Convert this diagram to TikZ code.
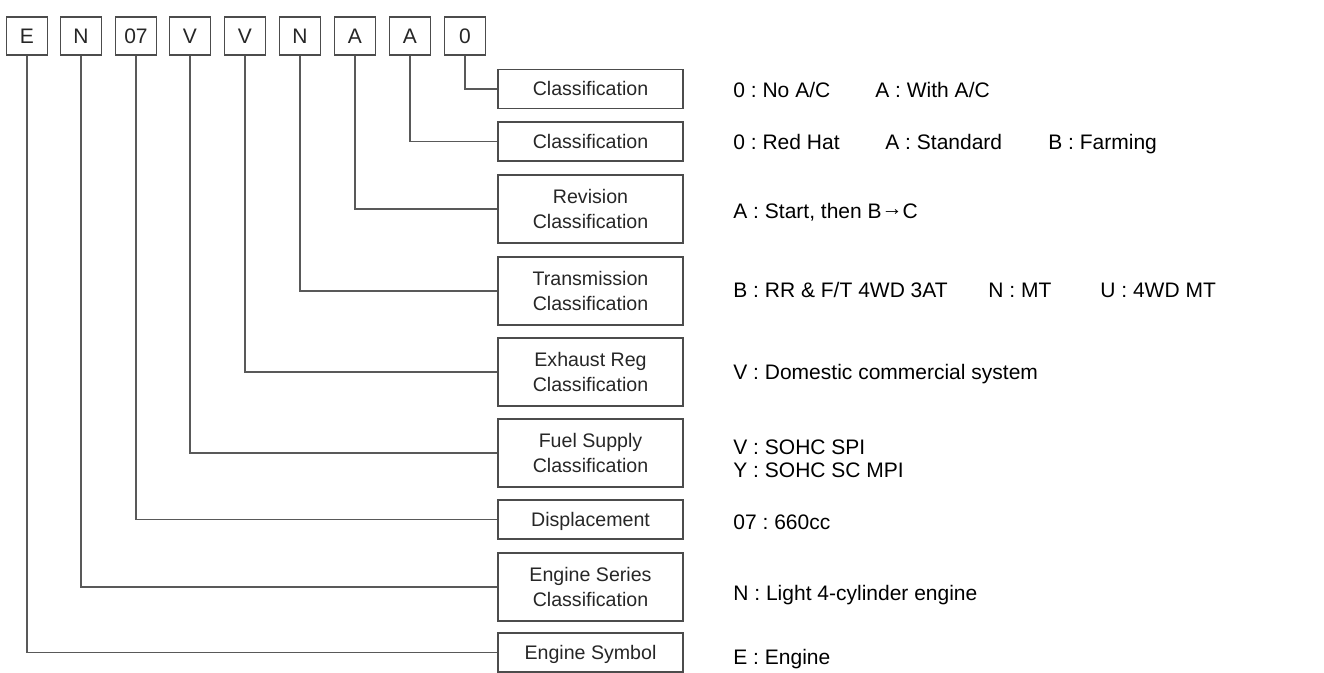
\documentclass[tikz,border=0pt]{standalone}
\usepackage{fontspec}
\setmainfont{Liberation Sans}
\usetikzlibrary{positioning}
\frenchspacing
\begin{document}
\begin{tikzpicture}[x=0.5pt,y=-0.5pt,
  code/.style={draw=black!70,line width=0.6pt,fill=white,minimum width=20.5pt,minimum height=19pt,inner sep=0pt,text height=7.5pt,text depth=0pt,text=black!85,font=\fontsize{10.5}{12}\selectfont},
  cls/.style={draw=black!70,line width=0.6pt,minimum width=92.5pt,minimum height=#1,align=center,inner sep=1pt,text=black!85,font=\fontsize{9.8}{12.5}\selectfont},
  cls/.default=19.5pt,
  cls1/.style={cls,text height=8.5pt,text depth=1.5pt},
  lead/.style={draw=black!65,line width=0.7pt},
  desc/.style={anchor=base west,inner sep=0pt,align=left,font=\fontsize{10.5}{11.5}\selectfont}]
\useasboundingbox (0,0) rectangle (1324,673);
% code letters
\node[code] (cE)  at (27,36)  {E};
\node[code] (cN)  at (81,36)  {N};
\node[code] (c07) at (136,36) {07};
\node[code] (cV1) at (190,36) {V};
\node[code] (cV2) at (245,36) {V};
\node[code] (cN2) at (300,36) {N};
\node[code] (cA1) at (355,36) {A};
\node[code] (cA2) at (410,36) {A};
\node[code] (c0)  at (465,36) {0};
% classification boxes
\node[cls1] (lAC)   at (590.5,89)    {Classification};
\node[cls1] (lHat)  at (590.5,141.5) {Classification};
\node[cls=34pt] (lRev)  at (590.5,209) {Revision\\Classification};
\node[cls=34pt] (lTrn)  at (590.5,291) {Transmission\\Classification};
\node[cls=34pt] (lExh)  at (590.5,372) {Exhaust Reg\\Classification};
\node[cls=34pt] (lFuel) at (590.5,453) {Fuel Supply\\Classification};
\node[cls1] (lDisp) at (590.5,519.5) {Displacement};
\node[cls=34pt] (lSer)  at (590.5,587) {Engine Series\\Classification};
\node[cls1] (lSym)  at (590.5,652.5) {Engine Symbol};
% leads
\draw[lead] (c0.south)  |- (lAC.west);
\draw[lead] (cA2.south) |- (lHat.west);
\draw[lead] (cA1.south) |- (lRev.west);
\draw[lead] (cN2.south) |- (lTrn.west);
\draw[lead] (cV2.south) |- (lExh.west);
\draw[lead] (cV1.south) |- (lFuel.west);
\draw[lead] (c07.south) |- (lDisp.west);
\draw[lead] (cN.south)  |- (lSer.west);
\draw[lead] (cE.south)  |- (lSym.west);
% meanings
\node[desc] (dAC1)  at (733,98)  {0 : No A/C};
\node[desc] (dAC2)  at (875,98)  {A : With A/C};
\node[desc] (dHat1) at (733,150) {0 : Red Hat};
\node[desc] (dHat2) at (885,150) {A : Standard};
\node[desc] (dHat3) at (1048,150) {B : Farming};
\node[desc] (dRev)  at (733,219) {A : Start, then B\raisebox{0.3ex}{→}C};
\node[desc] (dTrn1) at (733,298) {B : RR \& F/T 4WD 3AT};
\node[desc] (dTrn2) at (988,298) {N : MT};
\node[desc] (dTrn3) at (1100,298) {U : 4WD MT};
\node[desc] (dExh)  at (733,380) {V : Domestic commercial system};
\node[desc] (dFuel) at (733,478) {V : SOHC SPI\\Y : SOHC SC MPI};
\node[desc] (dDisp) at (733,530) {07 : 660cc};
\node[desc] (dSer)  at (733,601) {N : Light 4-cylinder engine};
\node[desc] (dSym)  at (733,665) {E : Engine};
\end{tikzpicture}
\end{document}
